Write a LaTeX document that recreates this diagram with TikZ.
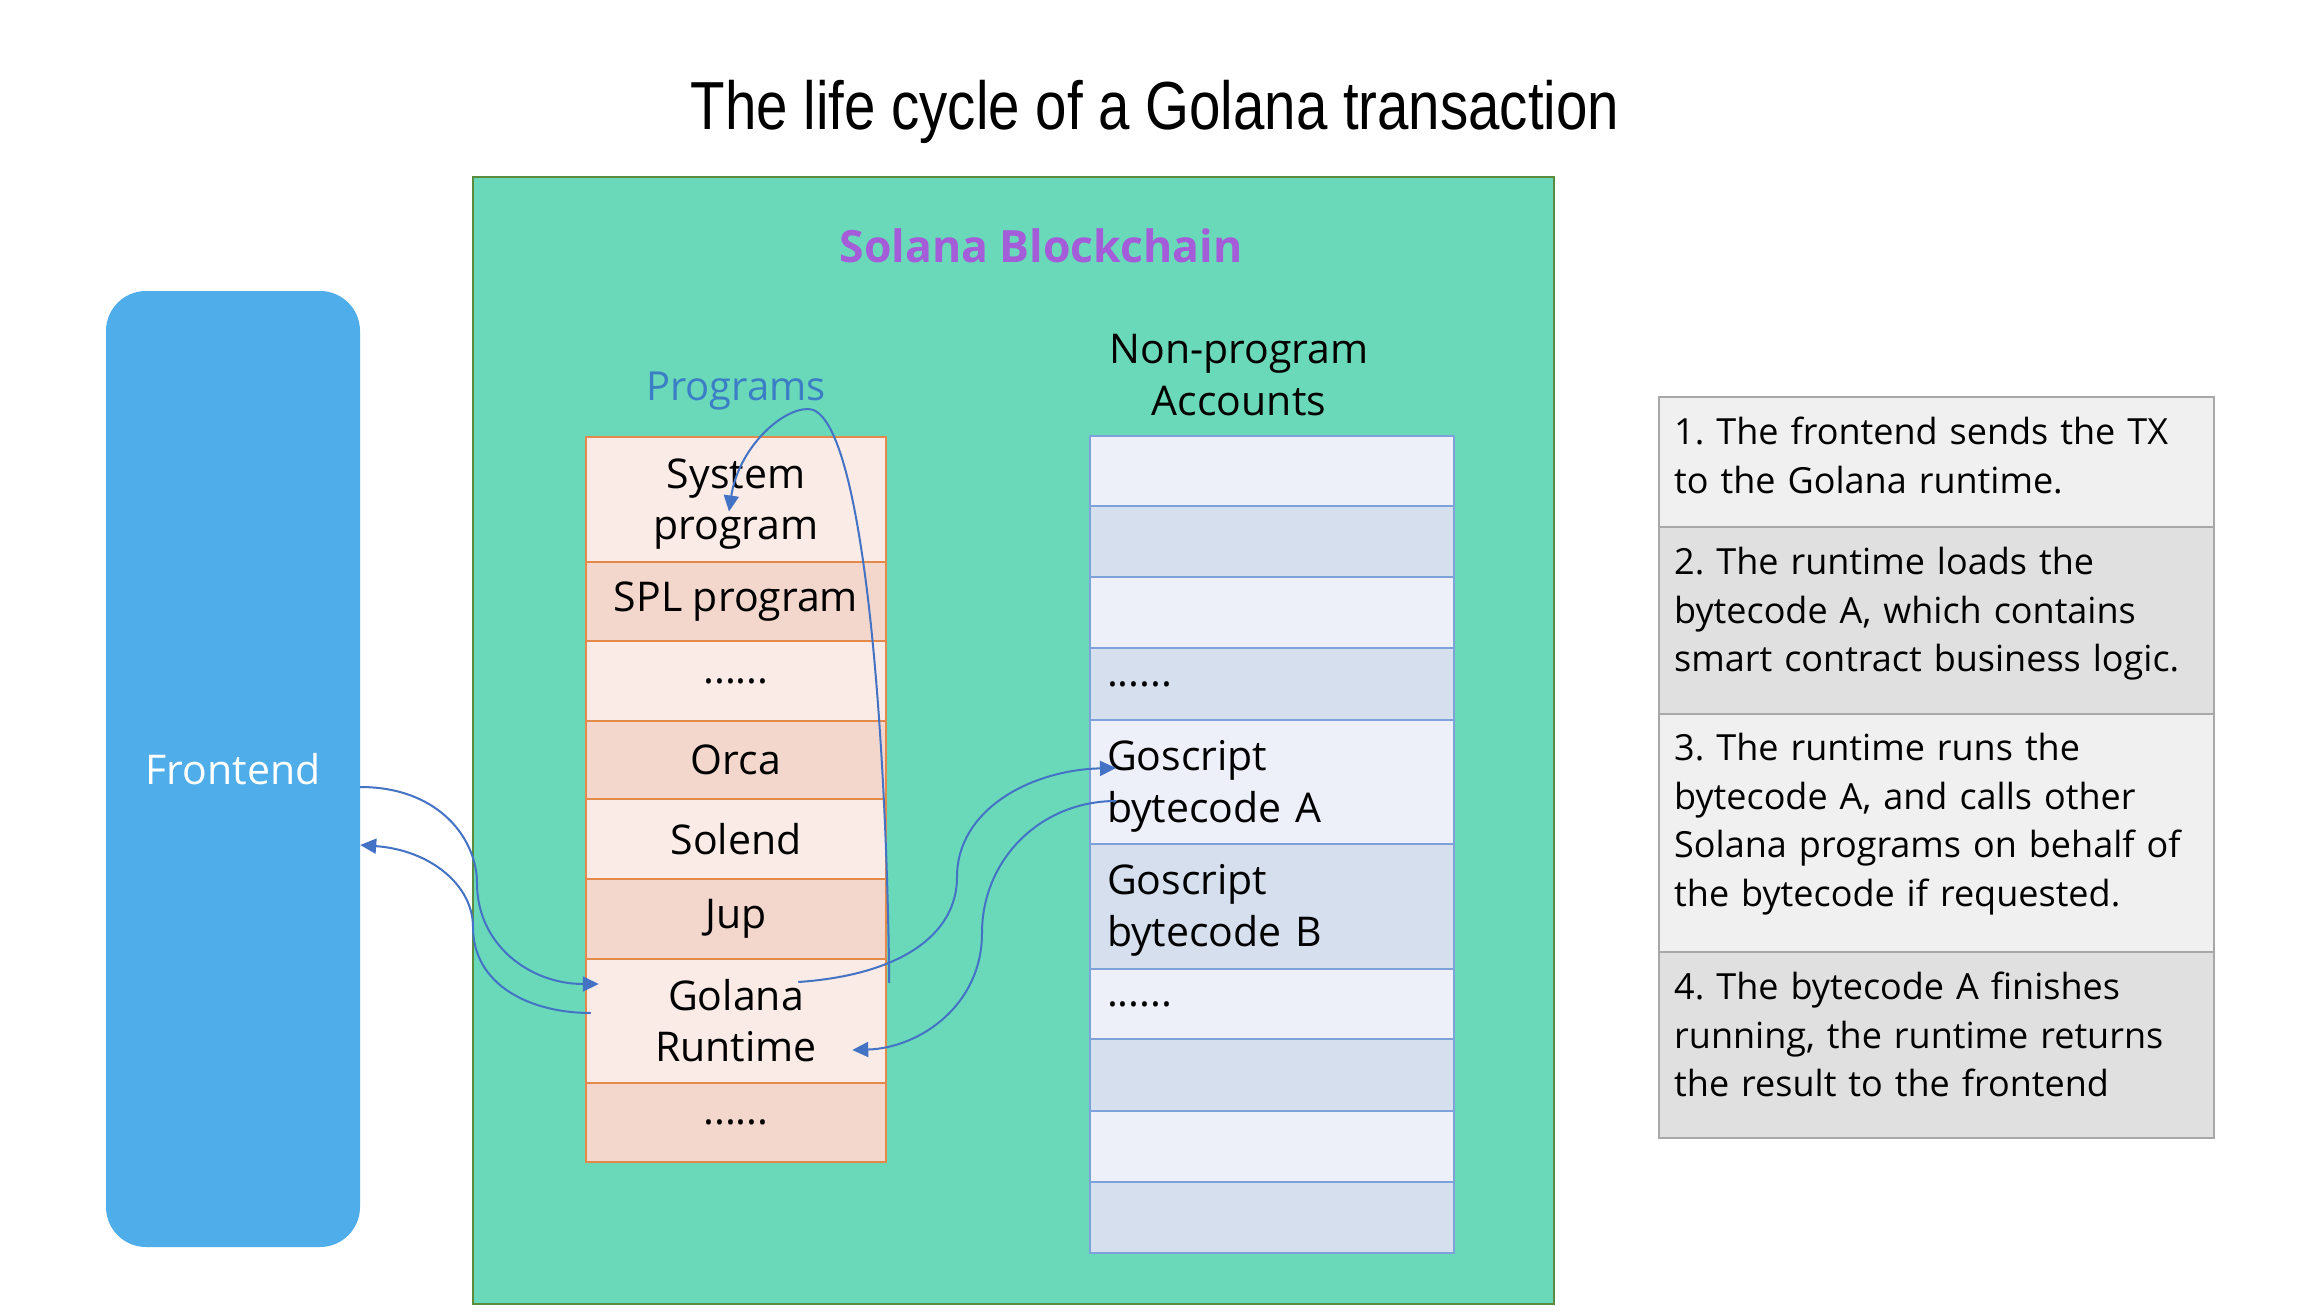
\documentclass[tikz,border=0pt]{standalone}
\usepackage{fontspec}
\setmainfont{Open Sans}
\newfontfamily\titlefont[FakeStretch=0.83]{Liberation Sans}
\usetikzlibrary{arrows.meta,calc}
\definecolor{chaingreen}{HTML}{6AD9BA}
\definecolor{chainedge}{HTML}{5B8C3E}
\definecolor{feblue}{HTML}{4FADE9}
\definecolor{purp}{HTML}{A45CD8}
\definecolor{progblue}{HTML}{3C7EC6}
\definecolor{arrowblue}{HTML}{4472C4}
\definecolor{plight}{HTML}{FAEBE7}
\definecolor{pdark}{HTML}{F3D7CD}
\definecolor{pedge}{HTML}{E38A4A}
\definecolor{alight}{HTML}{EDF0F8}
\definecolor{adark}{HTML}{D6DFEE}
\definecolor{aedge}{HTML}{7DA1D8}
\definecolor{tlight}{HTML}{F0F0F0}
\definecolor{tdark}{HTML}{E0E0E0}
\definecolor{tedge}{HTML}{A8A8A8}
\newcommand{\tallstrut}{\rule{0pt}{38pt}}
\frenchspacing
\tikzset{
  prow/.style={draw=pedge, line width=2.5pt, minimum width=300pt, inner sep=0pt, align=center, font=\fontsize{41}{51}\selectfont},
  arow/.style={draw=aedge, line width=2pt, text width=330pt, inner xsep=17pt, inner ysep=0pt, align=left, font=\fontsize{41}{52}\selectfont},
  tbox/.style={draw=tedge, line width=2pt, minimum width=555pt, inner sep=0pt},
  ttext/.style={anchor=north west, inner sep=0pt, text width=530pt, align=left, font=\frenchspacing\fontsize{36}{48.5}\selectfont},
  conn/.style={draw=arrowblue, line width=2pt, -{Triangle[length=16pt,width=15pt]}}
}
\begin{document}
\begin{tikzpicture}[x=1pt,y=-1pt]
\useasboundingbox (0,0) rectangle (2308,1316);
\fill[white] (0,0) rectangle (2308,1316);

% title
\node[font=\titlefont\fontsize{68}{80}\selectfont, anchor=base] (title) at (1155,130) {The life cycle of a Golana transaction};

% frontend
\node[fill=feblue, rounded corners=40pt, minimum width=254pt, minimum height=956pt, text=white, font=\fontsize{41}{50}\selectfont] (fe) at (233,769) {Frontend};

% blockchain box
\node[draw=chainedge, fill=chaingreen, line width=2pt, minimum width=1081pt, minimum height=1127pt, inner sep=0pt] (chain) at (1013,740.5) {};
\node[anchor=base, text=purp, font=\fontsize{44.5}{52}\selectfont\bfseries] (chainlbl) at (1041,262) {Solana Blockchain};

% programs
\node[anchor=base, text=progblue, font=\fontsize{40}{48}\selectfont] (proglbl) at (736,400) {Programs};
\node[prow, fill=plight, minimum height=125pt] (sys) at (736,499.5) {\tallstrut System\\program};
\node[prow, fill=pdark, minimum height=79pt] (spl) at (736,601.5) {SPL program};
\node[prow, fill=plight, minimum height=80pt] (pdots1) at (736,681) {......};
\node[prow, fill=pdark, minimum height=78pt] (orca) at (736,760) {Orca};
\node[prow, fill=plight, minimum height=80pt] (solend) at (736,839) {Solend};
\node[prow, fill=pdark, minimum height=80pt] (jup) at (736,919) {Jup};
\node[prow, fill=plight, minimum height=124pt] (rt) at (736,1021) {Golana\\Runtime};
\node[prow, fill=pdark, minimum height=79pt] (pdots2) at (736,1122.5) {......};

% accounts
\node[align=center, font=\fontsize{41}{52}\selectfont] (acclbl) at (1239,375) {Non-program\\Accounts};
\node[arow, fill=alight, minimum height=70pt] (a1) at (1272,471) {};
\node[arow, fill=adark, minimum height=71pt] (a2) at (1272,541.5) {};
\node[arow, fill=alight, minimum height=71pt] (a3) at (1272,612.5) {};
\node[arow, fill=adark, minimum height=72pt] (a4) at (1272,684) {......};
\node[arow, fill=alight, minimum height=124pt] (ga) at (1272,782) {\tallstrut Goscript\\bytecode A};
\node[arow, fill=adark, minimum height=125pt] (gb) at (1272,906.5) {\tallstrut Goscript\\bytecode B};
\node[arow, fill=alight, minimum height=70pt] (a7) at (1272,1004) {......};
\node[arow, fill=adark, minimum height=72pt] (a8) at (1272,1075) {};
\node[arow, fill=alight, minimum height=71pt] (a9) at (1272,1146.5) {};
\node[arow, fill=adark, minimum height=71pt] (a10) at (1272,1217.5) {};

% steps box
\node[tbox, fill=tlight, minimum height=130pt] (s1) at (1936.5,462) {};
\node[tbox, fill=tdark, minimum height=187pt] (s2) at (1936.5,620.5) {};
\node[tbox, fill=tlight, minimum height=238pt] (s3) at (1936.5,833) {};
\node[tbox, fill=tdark, minimum height=186pt] (s4) at (1936.5,1045) {};
\node[ttext] (s1t) at ($(s1.north west)+(16,21)$) {1. The frontend sends the TX\\to the Golana runtime.};
\node[ttext] (s2t) at ($(s2.north west)+(16,21)$) {2. The runtime loads the\\bytecode A, which contains\\smart contract business logic.};
\node[ttext] (s3t) at ($(s3.north west)+(16,20)$) {3. The runtime runs the\\bytecode A, and calls other\\Solana programs on behalf of\\the bytecode if requested.};
\node[ttext] (s4t) at ($(s4.north west)+(16,21)$) {4. The bytecode A finishes\\running, the runtime returns\\the result to the frontend};

% connectors
\draw[conn] ($(fe.east)+(0,18)$) .. controls (440,787) and (477,840) .. (477,883)
  .. controls (477,945) and (530,984) .. ($(rt.west)+(14,-37)$);
\draw[conn] ($(rt.west)+(6,-8)$) .. controls (530,1013) and (473,985) .. (473,927)
  .. controls (473,885) and (430,850) .. ($(fe.east)+(0,76)$);
\draw[conn] ($(rt.east)+(-89,-39)$) .. controls (900,975) and (957,935) .. (957,877)
  .. controls (957,810) and (1030,770) .. ($(ga.west)+(27,-14)$);
\draw[conn] ($(ga.west)+(27,19)$) .. controls (1040,801) and (982,860) .. (982,933)
  .. controls (982,1005) and (920,1048) .. ($(rt.east)+(-35,29)$);
\draw[conn] ($(rt.east)+(2,-38)$) .. controls (886,700) and (860,409) .. (808,409)
  .. controls (780,409) and (738,450) .. ($(sys.center)+(-7,12)$);
\end{tikzpicture}
\end{document}
